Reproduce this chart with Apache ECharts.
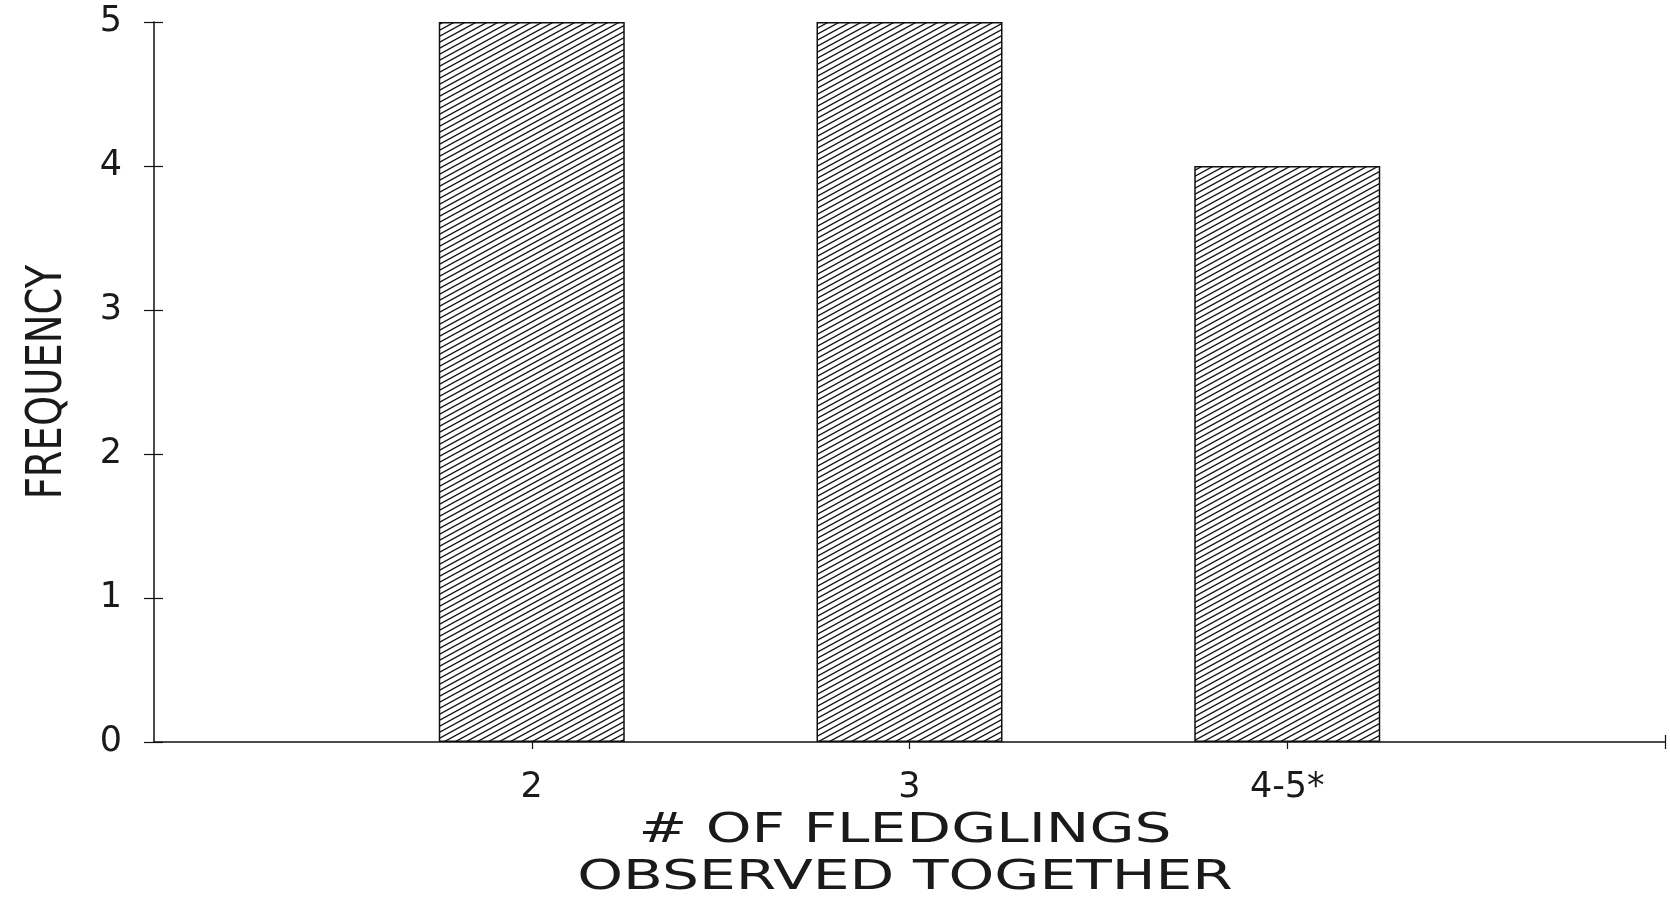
<!DOCTYPE html>
<html>
<head>
<meta charset="utf-8">
<title>Fledglings observed together</title>
<script src="https://cdn.jsdelivr.net/npm/echarts@6/dist/echarts.min.js"></script>
<style>
  html, body { margin: 0; padding: 0; background: #fff; }
  #chart { width: 1670px; height: 899px; }
</style>
</head>
<body>
<div id="chart"></div>
<script>
// Group sizes (number of fledglings seen together) and how often each occurred
const categories = ['2', '3', '4-5*'];
const frequency = [5, 5, 4];
const yTicks = [0, 1, 2, 3, 4, 5];

const xName = '# OF FLEDGLINGS\nOBSERVED TOGETHER';
const yName = 'FREQUENCY';

// One empty slot on each side so the bars sit on whole-unit positions
const axisCats = [''].concat(categories, ['']);
const barData = [null].concat(frequency, [null]);
const lastIdx = axisCats.length - 1;

// Diagonal hatch tile (lines rising to the right)
function hatchTile() {
  const w = 11, h = 6;
  const c = document.createElement('canvas');
  c.width = w; c.height = h;
  const g = c.getContext('2d');
  g.fillStyle = '#fff';
  g.fillRect(0, 0, w, h);
  g.strokeStyle = '#111';
  g.lineWidth = 1.3;
  for (let m = -1; m <= 1; m++) {
    g.beginPath();
    g.moveTo(-w, 2 * h + m * h);
    g.lineTo(2 * w, -h + m * h);
    g.stroke();
  }
  return c;
}

const font = 'DejaVu Sans';
const ink = '#111';
const textInk = '#1a1a1a';

const chart = echarts.init(document.getElementById('chart'), null, { renderer: 'canvas' });

chart.setOption({
  animation: false,
  backgroundColor: '#fff',
  grid: { left: 154, right: 5, top: 22, bottom: 157, containLabel: false },
  xAxis: [
    {
      type: 'category',
      data: axisCats,
      boundaryGap: false,
      position: 'bottom',
      axisLine: { show: true, lineStyle: { color: ink, width: 1.5 } },
      axisTick: {
        show: true, inside: false, length: 7,
        interval: (i) => i > 0,
        lineStyle: { color: ink, width: 1.2 }
      },
      axisLabel: {
        show: true, margin: 28, interval: 0,
        color: textInk, fontFamily: font, fontSize: 35
      },
      splitLine: { show: false }
    },
    {
      type: 'category',
      data: axisCats,
      boundaryGap: false,
      position: 'bottom',
      axisLine: { show: false },
      axisTick: {
        show: true, inside: true, length: 7,
        interval: (i) => i === lastIdx,
        lineStyle: { color: ink, width: 1.2 }
      },
      axisLabel: { show: false },
      splitLine: { show: false }
    }
  ],
  yAxis: [
    {
      type: 'value',
      min: yTicks[0],
      max: yTicks[yTicks.length - 1],
      interval: 1,
      axisLine: { show: true, lineStyle: { color: ink, width: 1.5 } },
      axisTick: { show: true, inside: false, length: 10, lineStyle: { color: ink, width: 1.2 } },
      axisLabel: {
        show: true, margin: 32,
        color: textInk, fontFamily: font, fontSize: 35
      },
      splitLine: { show: false }
    },
    {
      type: 'value',
      min: yTicks[0],
      max: yTicks[yTicks.length - 1],
      interval: 1,
      position: 'left',
      axisLine: { show: false },
      axisTick: { show: true, inside: true, length: 9, lineStyle: { color: ink, width: 1.2 } },
      axisLabel: { show: false },
      splitLine: { show: false }
    }
  ],
  series: [
    {
      type: 'bar',
      xAxisIndex: 0,
      yAxisIndex: 0,
      data: barData,
      barWidth: 186,
      itemStyle: {
        color: { image: hatchTile(), repeat: 'repeat' },
        borderColor: ink,
        borderWidth: 1.5
      }
    }
  ],
  graphic: [
    {
      type: 'text',
      x: 48, y: 382,
      rotation: Math.PI / 2,
      scaleX: 0.77,
      style: {
        text: yName,
        x: 0, y: 0,
        align: 'center', verticalAlign: 'middle',
        fill: textInk, fontFamily: font, fontSize: 50
      }
    },
    {
      type: 'text',
      x: 905, y: 855,
      scaleX: 1.42,
      style: {
        text: xName,
        x: 0, y: 0,
        align: 'center', verticalAlign: 'middle',
        lineHeight: 47,
        fill: textInk, fontFamily: font, fontSize: 41
      }
    }
  ]
});
</script>
</body>
</html>
